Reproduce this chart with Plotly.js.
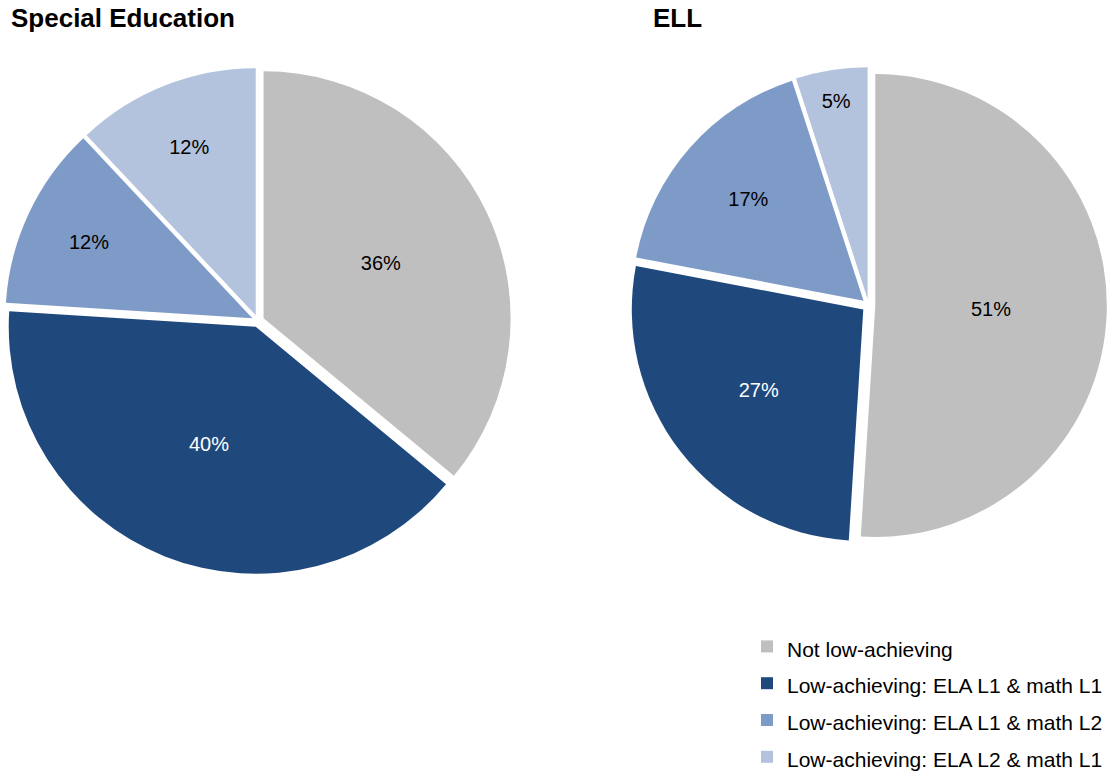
<!DOCTYPE html>
<html>
<head>
<meta charset="utf-8">
<script src="https://cdn.plot.ly/plotly-3.0.1.min.js"></script>
<style>html,body{margin:0;padding:0;background:#fff;}#chart{width:1111px;height:782px;}</style>
</head>
<body>
<div id="chart"></div>
<script>
// ---- data ----
const categories = [
  "Not low-achieving",
  "Low-achieving: ELA L1 & math L1",
  "Low-achieving: ELA L1 & math L2",
  "Low-achieving: ELA L2 & math L1"
];
const specialEdValues = [36, 40, 12, 12];
const ellValues = [51, 27, 17, 5];
const chartTitles = ["Special Education", "ELL"];

// ---- styles ----
const sliceColors = ["#BFBFBF", "#1F497D", "#7E9BC8", "#B3C2DD"];
const labelColors = ["#000000", "#FFFFFF", "#000000", "#000000"];
const W = 1111, H = 782;
const FONT = "Liberation Sans, Arial, sans-serif";

// legend rows use a larger base font (for row spacing) with the visible text at 21px
const legendLabels = categories.map(c => "<span style='font-size:21px'>" + c + "</span>");

function px2x(p){ return p / W; }
function px2y(p){ return 1 - p / H; }

function pieTrace(values, cx, cy, r, pull){
  const half = r * (1 + pull);
  return {
    type: "pie",
    labels: legendLabels,
    values: values,
    sort: false,
    direction: "clockwise",
    rotation: 0,
    pull: values.map(() => pull),
    marker: {colors: sliceColors, line: {color: "#FFFFFF", width: 0}},
    textinfo: "percent",
    texttemplate: "%{percent:.0%}",
    textposition: "inside",
    insidetextorientation: "horizontal",
    textfont: {family: FONT, size: 20, color: labelColors},
    hoverinfo: "percent",
    domain: {
      x: [px2x(cx - half), px2x(cx + half)],
      y: [px2y(cy + half), px2y(cy - half)]
    }
  };
}

const data = [
  pieTrace(specialEdValues, 258, 321, 247, 0.025),
  pieTrace(ellValues, 868.6, 305.3, 231.5, 0.029)
];

const layout = {
  width: W, height: H,
  margin: {l: 0, r: 0, t: 0, b: 0},
  paper_bgcolor: "#FFFFFF",
  plot_bgcolor: "#FFFFFF",
  font: {family: FONT, color: "#000000"},
  showlegend: true,
  legend: {
    x: px2x(747), xanchor: "left",
    y: px2y(623), yanchor: "top",
    font: {family: FONT, size: 26, color: "#000000"},
    bgcolor: "rgba(0,0,0,0)",
    borderwidth: 0,
    traceorder: "normal"
  },
  annotations: [
    {text: chartTitles[0], xref: "paper", yref: "paper", x: px2x(9), y: px2y(18),
     xanchor: "left", yanchor: "middle", showarrow: false,
     font: {family: FONT, size: 26, weight: "bold", color: "#000000"}},
    {text: chartTitles[1], xref: "paper", yref: "paper", x: px2x(651), y: px2y(18),
     xanchor: "left", yanchor: "middle", showarrow: false,
     font: {family: FONT, size: 26, weight: "bold", color: "#000000"}}
  ]
};

Plotly.newPlot("chart", data, layout, {displayModeBar: false, staticPlot: true});
</script>
</body>
</html>
